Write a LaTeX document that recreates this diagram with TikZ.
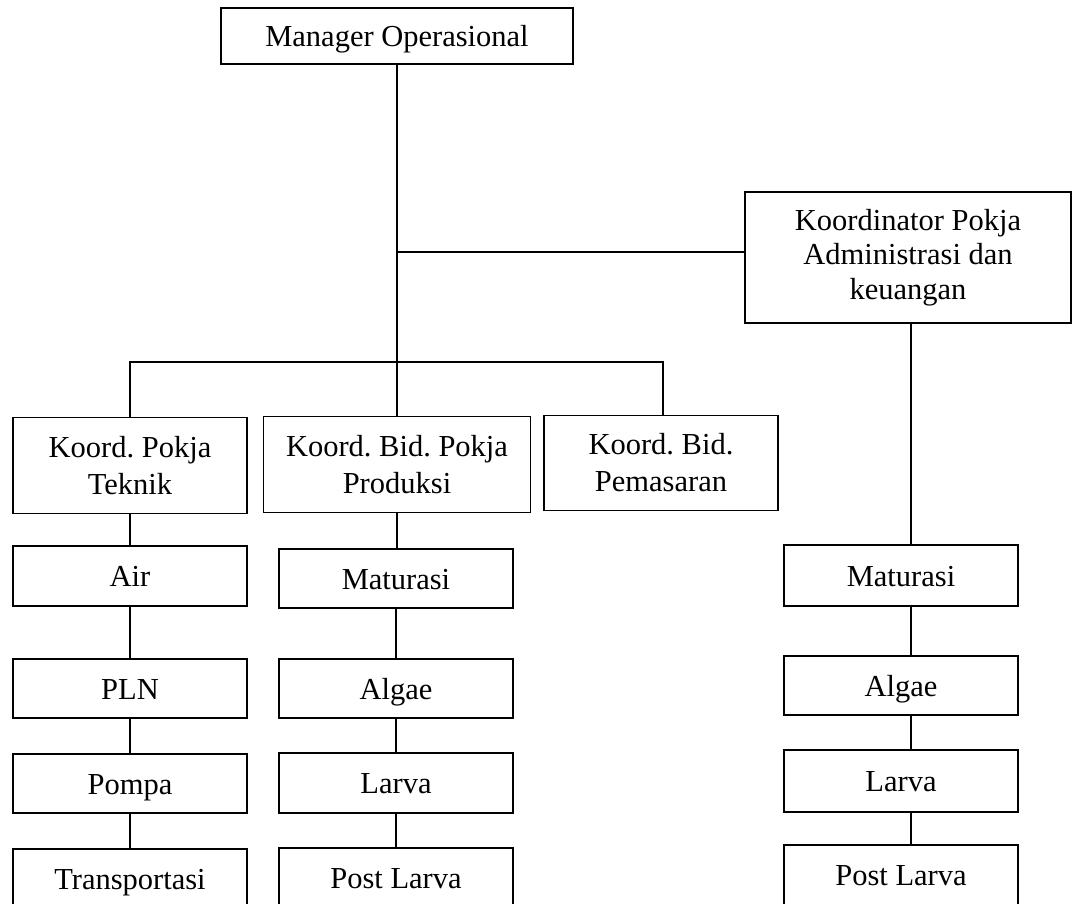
\documentclass[tikz,border=0pt]{standalone}
\usepackage{fontspec}
\setmainfont{Liberation Serif}
\begin{document}
\frenchspacing
\begin{tikzpicture}[x=1pt,y=-1pt,
  box/.style={draw, line width=1.6pt, inner sep=0pt, align=center,
    font=\fontsize{30.5}{37}\selectfont\frenchspacing, minimum width=234pt},
  one/.style={box, text height=21pt, text depth=0pt},
  link/.style={line width=1.6pt}]
\useasboundingbox (0,0) rectangle (1073,904);
% top
\node[one, minimum width=352pt, minimum height=56pt] (mgr) at (397,36) {Manager Operasional};
\node[box, minimum width=326pt, minimum height=131pt, font=\fontsize{30.5}{34.5}\selectfont\frenchspacing] (admin) at (908,257.5) {Koordinator Pokja\\Administrasi dan\\keuangan};
% row 1
\node[box, minimum height=96pt] (tek) at (130,465.5) {Koord. Pokja\\Teknik};
\node[box, minimum width=267pt, minimum height=96pt] (pro) at (397,464.5) {Koord. Bid. Pokja\\Produksi};
\node[box, minimum height=95pt] (pem) at (661,463) {Koord. Bid.\\Pemasaran};
% column 1
\node[one, minimum height=60pt] (air) at (130,576) {Air};
\node[one, minimum height=59pt] (pln) at (130,688.5) {PLN};
\node[one, minimum height=59pt] (pompa) at (130,783.5) {Pompa};
\node[one, minimum height=60pt] (trans) at (130,879) {Transportasi};
% column 2
\node[one, minimum height=59pt] (mat2) at (396,578.5) {Maturasi};
\node[one, minimum height=59pt] (alg2) at (396,688.5) {Algae};
\node[one, minimum height=60pt] (lar2) at (396,783) {Larva};
\node[one, minimum height=60pt] (post2) at (396,878) {Post Larva};
% column 3
\node[one, minimum height=61pt] (mat3) at (901,575.5) {Maturasi};
\node[one, minimum height=59pt] (alg3) at (901,685.5) {Algae};
\node[one, minimum height=62pt] (lar3) at (901,781) {Larva};
\node[one, minimum height=60pt] (post3) at (901,875) {Post Larva};
% junctions
\coordinate (sj) at (397,252);
\coordinate (jR) at (663,362);
% connectors
\draw[link] (mgr.south) -- (mgr.south |- pro.north);
\draw[link] (sj) -- (sj -| admin.west);
\draw[link] (tek.north) |- (jR) -- (jR |- pem.north);
\draw[link] ([xshift=3pt]admin.south) -- ([xshift=10pt]mat3.north);
\draw[link] (tek.south) -- (air.north);
\draw[link] (air.south) -- (pln.north);
\draw[link] (pln.south) -- (pompa.north);
\draw[link] (pompa.south) -- (trans.north);
\draw[link] (pro.south) -- (pro.south |- mat2.north);
\draw[link] (mat2.south) -- (alg2.north);
\draw[link] (alg2.south) -- (lar2.north);
\draw[link] (lar2.south) -- (post2.north);
\draw[link] ([xshift=10pt]mat3.south) -- ([xshift=10pt]alg3.north);
\draw[link] ([xshift=10pt]alg3.south) -- ([xshift=10pt]lar3.north);
\draw[link] ([xshift=10pt]lar3.south) -- ([xshift=10pt]post3.north);
\end{tikzpicture}
\end{document}
